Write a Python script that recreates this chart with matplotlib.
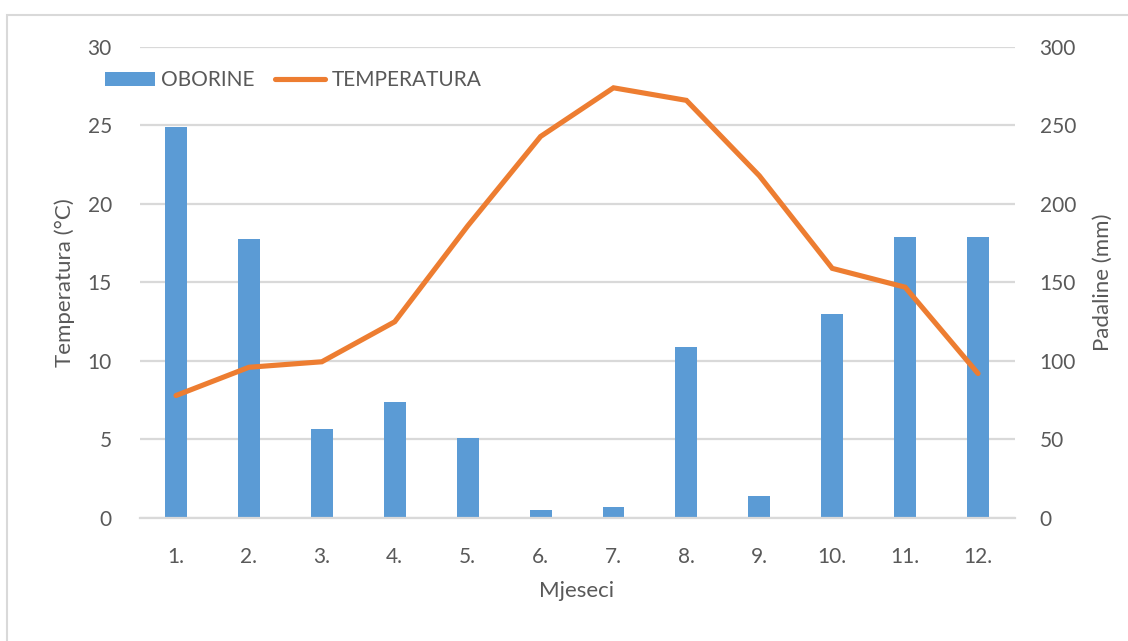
import matplotlib
matplotlib.use("Agg")
import matplotlib.pyplot as plt
from matplotlib.lines import Line2D
from matplotlib.patches import Patch, Rectangle

months = ["1.", "2.", "3.", "4.", "5.", "6.", "7.", "8.", "9.", "10.", "11.", "12."]
oborine_mm = [249, 178, 57, 74, 51, 5, 7, 109, 14, 130, 179, 179]
temperatura_c = [7.8, 9.6, 9.95, 12.5, 18.6, 24.3, 27.4, 26.6, 21.8, 15.9, 14.7, 9.2]
temp_ticks = [0, 5, 10, 15, 20, 25, 30]
rain_ticks = [0, 50, 100, 150, 200, 250, 300]

BLUE = "#5B9BD5"
ORANGE = "#ED7D31"
GRID = "#D9D9D9"
TEXT = "#595959"
FONT = "Lato"

plt.rcParams["font.family"] = [FONT, "DejaVu Sans"]

fig = plt.figure(figsize=(11.28, 6.41), dpi=100)
fig.subplots_adjust(left=0.1237, right=0.8994, top=0.9267, bottom=0.1919)

ax_t = fig.add_subplot(111)
ax_r = ax_t.twinx()

x = list(range(len(months)))

# precipitation bars on the right axis, drawn underneath
ax_r.bar(x, oborine_mm, width=0.3, color=BLUE, zorder=2)
ax_r.set_ylim(0, 300)
ax_r.set_yticks(rain_ticks)
ax_r.yaxis.grid(True, color=GRID, linewidth=1.6, zorder=0)
ax_r.set_axisbelow(True)

# temperature line on the left axis, drawn on top
ax_t.plot(x, temperatura_c, color=ORANGE, linewidth=3.7, solid_capstyle="round",
          solid_joinstyle="miter", zorder=3)
ax_t.set_ylim(0, 30)
ax_t.set_yticks(temp_ticks)
ax_t.set_xlim(-0.5, len(months) - 0.5)
ax_t.set_xticks(x)
ax_t.set_xticklabels(months)
ax_t.set_zorder(ax_r.get_zorder() + 1)
ax_t.patch.set_visible(False)

for a in (ax_t, ax_r):
    for s in a.spines.values():
        s.set_visible(False)
    a.tick_params(length=0, labelsize=15, labelcolor=TEXT)

ax_r.spines["bottom"].set_visible(True)
ax_r.spines["bottom"].set_color(GRID)
ax_r.spines["bottom"].set_linewidth(1.6)

ax_t.tick_params(axis="y", pad=20)
ax_r.tick_params(axis="y", pad=18)
ax_t.tick_params(axis="x", pad=21)

ax_t.set_ylabel("Temperatura (°C)", fontsize=16, color=TEXT, labelpad=9)
ax_r.set_ylabel("Padaline (mm)", fontsize=16, color=TEXT, labelpad=12)
ax_t.set_xlabel("Mjeseci", fontsize=16, color=TEXT, labelpad=10)

handles = [Patch(facecolor=BLUE, edgecolor="none"),
           Line2D([0], [0], color=ORANGE, linewidth=3.7, solid_capstyle="round")]
fig.legend(handles, ["OBORINE", "TEMPERATURA"], loc="center left",
           bbox_to_anchor=(0.093, 0.875), ncol=2, frameon=False,
           fontsize=15, labelcolor=TEXT, handlelength=2.4, handletextpad=0.3,
           columnspacing=1.0, borderaxespad=0, borderpad=0)

# outer chart frame
fig.patches.append(Rectangle((7 / 1128, -0.05), 1.2, 1 - 15 / 641 + 0.05,
                             transform=fig.transFigure, fill=False,
                             edgecolor=GRID, linewidth=1.5))

fig.savefig("out.png", dpi=100)
